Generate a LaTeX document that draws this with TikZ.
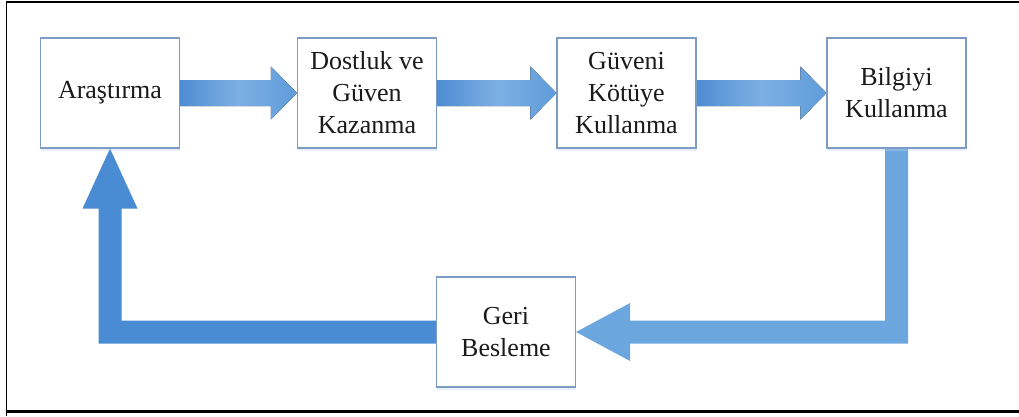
\documentclass[tikz,border=0pt]{standalone}
\usepackage{fontspec}
\setmainfont{Liberation Serif}
\usetikzlibrary{calc,shadows,backgrounds}

\definecolor{boxline}{HTML}{7C9CC4}
\definecolor{arrowdark}{HTML}{4E8DD2}
\definecolor{arrowlight}{HTML}{7DB0E3}
\definecolor{arrowmid}{HTML}{5F9CDA}
\definecolor{glow}{HTML}{B9D5F0}
\definecolor{loopright}{HTML}{6CA6DE}
\definecolor{loopleft}{HTML}{4A8CD3}
\definecolor{txt}{HTML}{1A1A1A}

\tikzset{
  stage/.style={draw=boxline, line width=1.1pt, fill=white,
    minimum width=139pt, minimum height=110pt, inner sep=0pt,
    align=center, text=txt,
    font=\fontsize{26}{32}\selectfont,
    drop shadow={shadow xshift=0pt, shadow yshift=-2.5pt, opacity=0.35, fill=glow}},
  flow/.style={left color=arrowdark, right color=arrowmid, middle color=arrowlight, draw=none},
}

\begin{document}
\begin{tikzpicture}[x=1pt, y=-1pt]
  \useasboundingbox (0,0) rectangle (1019,416);

  % frame
  \draw[line width=1.6pt] (6.5,416) -- (6.5,2) -- (1019,2);
  \draw[line width=3pt] (6.5,411.5) -- (1019,411.5);

  % stages
  \node[stage] (ara)  at (110,93)   {Araştırma};
  \node[stage] (dost) at (367,93)   {Dostluk ve\\Güven\\Kazanma};
  \node[stage] (guv)  at (626.5,93) {Güveni\\Kötüye\\Kullanma};
  \node[stage] (bil)  at (896.5,93) {Bilgiyi\\Kullanma};
  \node[stage] (geri) at (506,332)  {Geri\\Besleme};

  \begin{pgfonlayer}{background}
  % block arrows between the stages
  \foreach \a/\b in {ara/dost, dost/guv, guv/bil}{
    \fill[flow]
      ($(\a.east)+(0,-13)$) -- ($(\b.west)+(-26,-13)$) --
      ($(\b.west)+(-26,-26.5)$) -- (\b.west) --
      ($(\b.west)+(-26,26.5)$) -- ($(\b.west)+(-26,13)$) --
      ($(\a.east)+(0,13)$) -- cycle;
  }

  % feedback: Bilgiyi Kullanma -> Geri Besleme
  \fill[loopright]
    let \p1=(bil.south), \p2=(geri.east) in
      (\x1-11.5,\y1) -- (\x1-11.5,\y2+11.5) -- (\x2+54,\y2+11.5) --
      (\x2+54,\y2+29) -- (\p2) -- (\x2+54,\y2-29) --
      (\x2+54,\y2-11.5) -- (\x1+11.5,\y2-11.5) -- (\x1+11.5,\y1) -- cycle;

  % feedback: Geri Besleme -> Araştırma
  \fill[loopleft]
    let \p1=(ara.south), \p2=(geri.west) in
      (\x2,\y2+11.5) -- (\x1+11.5,\y2+11.5) -- (\x1+11.5,\y1-60) --
      (\x1+27.5,\y1-60) -- (\p1) -- (\x1-27.5,\y1-60) --
      (\x1-11.5,\y1-60) -- (\x1-11.5,\y2-11.5) -- (\x2,\y2-11.5) -- cycle;
  \end{pgfonlayer}
\end{tikzpicture}
\end{document}
